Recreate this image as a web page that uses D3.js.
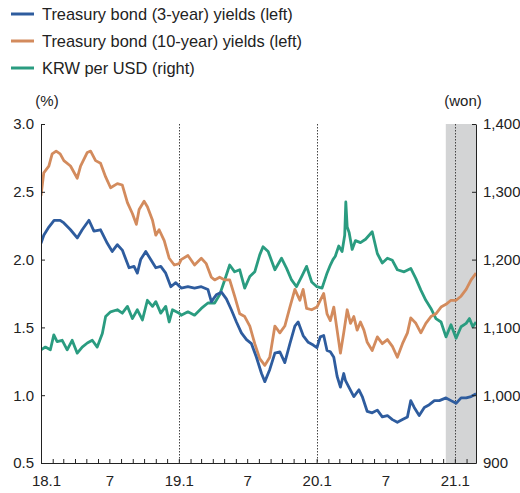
<!DOCTYPE html>
<html>
<head>
<meta charset="utf-8">
<script src="https://cdn.jsdelivr.net/npm/d3@7"></script>
<style>
  html, body { margin: 0; padding: 0; background: #fff; }
  svg { display: block; }
</style>
</head>
<body>
<svg id="chart" width="520" height="493"></svg>
<script>
// ---------------- DATA (decimal-year time) ----------------
const seriesNames = [
  "Treasury bond (3-year) yields (left)",
  "Treasury bond (10-year) yields (left)",
  "KRW per USD (right)"
];

const bond3Time = [
  2018.000, 2018.020, 2018.057, 2018.095, 2018.139, 2018.166, 2018.214, 2018.263, 2018.299, 2018.348,
  2018.384, 2018.432, 2018.481, 2018.517, 2018.554, 2018.590, 2018.639, 2018.675, 2018.699, 2018.723,
  2018.760, 2018.796, 2018.833, 2018.869, 2018.905, 2018.942, 2018.978,
  2019.017, 2019.066, 2019.114, 2019.163, 2019.211, 2019.236, 2019.272, 2019.309, 2019.345, 2019.381,
  2019.418, 2019.454, 2019.491, 2019.527, 2019.563, 2019.600, 2019.624, 2019.660, 2019.697, 2019.733,
  2019.769, 2019.806, 2019.842, 2019.866, 2019.902, 2019.939, 2019.975,
  2020.002, 2020.026, 2020.051, 2020.075, 2020.099, 2020.124, 2020.148, 2020.172, 2020.196, 2020.208,
  2020.233, 2020.269, 2020.306, 2020.330, 2020.366, 2020.402, 2020.439, 2020.475, 2020.512, 2020.548,
  2020.584, 2020.621, 2020.657, 2020.681, 2020.706, 2020.742, 2020.779, 2020.815, 2020.852, 2020.888,
  2020.936, 2020.972, 2021.009, 2021.045, 2021.082, 2021.118, 2021.154
];
const bond3Yield = [
  2.12, 2.18, 2.24, 2.29, 2.29, 2.27, 2.22, 2.16, 2.22, 2.29,
  2.21, 2.22, 2.12, 2.06, 2.11, 2.07, 1.94, 1.95, 1.90, 2.00,
  2.06, 2.00, 1.94, 1.95, 1.90, 1.80, 1.83,
  1.79, 1.80, 1.79, 1.80, 1.78, 1.69, 1.74, 1.76, 1.71, 1.63,
  1.54, 1.46, 1.41, 1.38, 1.28, 1.16, 1.10, 1.19, 1.31, 1.32,
  1.24, 1.38, 1.51, 1.54, 1.44, 1.39, 1.37,
  1.35, 1.43, 1.44, 1.33, 1.32, 1.28, 1.14, 1.06, 1.16, 1.11,
  1.06, 0.99, 1.04, 0.99, 0.88, 0.87, 0.89, 0.84, 0.85, 0.82,
  0.80, 0.82, 0.84, 0.96, 0.91, 0.85, 0.91, 0.93, 0.96, 0.96,
  0.98, 0.96, 0.94, 0.98, 0.98, 0.99, 1.01
];

const bond10Time = [
  2018.000, 2018.020, 2018.057, 2018.081, 2018.110, 2018.139, 2018.166, 2018.214, 2018.263, 2018.287,
  2018.336, 2018.360, 2018.396, 2018.432, 2018.469, 2018.505, 2018.554, 2018.590, 2018.627, 2018.663,
  2018.692, 2018.712, 2018.748, 2018.772, 2018.809, 2018.833, 2018.857, 2018.894, 2018.930, 2018.967,
  2019.003, 2019.017, 2019.066, 2019.114, 2019.163, 2019.199, 2019.236, 2019.260, 2019.296, 2019.333,
  2019.369, 2019.405, 2019.442, 2019.478, 2019.515, 2019.551, 2019.587, 2019.624, 2019.660, 2019.697,
  2019.733, 2019.769, 2019.806, 2019.842, 2019.878, 2019.902, 2019.927, 2019.964,
  2020.002, 2020.026, 2020.051, 2020.075, 2020.099, 2020.124, 2020.148, 2020.172, 2020.196, 2020.221,
  2020.245, 2020.269, 2020.293, 2020.317, 2020.342, 2020.366, 2020.402, 2020.439, 2020.475, 2020.512,
  2020.548, 2020.584, 2020.621, 2020.657, 2020.681, 2020.718, 2020.754, 2020.790, 2020.827, 2020.863,
  2020.900, 2020.936, 2020.972, 2021.009, 2021.045, 2021.082, 2021.118, 2021.154
];
const bond10Yield = [
  2.47, 2.64, 2.69, 2.78, 2.80, 2.78, 2.73, 2.69, 2.60, 2.69,
  2.79, 2.80, 2.73, 2.71, 2.61, 2.53, 2.56, 2.55, 2.42, 2.34,
  2.26, 2.37, 2.43, 2.39, 2.29, 2.18, 2.22, 2.14, 2.01, 1.96,
  1.97, 2.00, 2.03, 1.96, 2.01, 1.97, 1.87, 1.85, 1.87, 1.85,
  1.85, 1.73, 1.60, 1.58, 1.51, 1.38, 1.27, 1.22, 1.28, 1.51,
  1.46, 1.51, 1.65, 1.78, 1.70, 1.78, 1.64, 1.63,
  1.65, 1.70, 1.75, 1.60, 1.55, 1.65, 1.48, 1.31, 1.46, 1.63,
  1.53, 1.58, 1.48, 1.54, 1.48, 1.39, 1.33, 1.43, 1.38, 1.41,
  1.36, 1.28, 1.38, 1.46, 1.57, 1.53, 1.46, 1.53, 1.58, 1.60,
  1.65, 1.67, 1.70, 1.70, 1.73, 1.78, 1.85, 1.90
];

const krwTime = [
  2018.000, 2018.032, 2018.068, 2018.093, 2018.117, 2018.154, 2018.190, 2018.226, 2018.263, 2018.299,
  2018.336, 2018.372, 2018.408, 2018.445, 2018.469, 2018.505, 2018.554, 2018.590, 2018.627, 2018.663,
  2018.699, 2018.736, 2018.772, 2018.809, 2018.833, 2018.869, 2018.905, 2018.930, 2018.954,
  2019.003, 2019.017, 2019.066, 2019.114, 2019.163, 2019.211, 2019.260, 2019.296, 2019.333, 2019.369,
  2019.405, 2019.442, 2019.478, 2019.515, 2019.551, 2019.587, 2019.611, 2019.648, 2019.697, 2019.745,
  2019.782, 2019.818, 2019.854, 2019.891, 2019.927, 2019.964,
  2020.002, 2020.039, 2020.075, 2020.099, 2020.118, 2020.135, 2020.160, 2020.184, 2020.203, 2020.211,
  2020.221, 2020.235, 2020.257, 2020.281, 2020.317, 2020.354, 2020.402, 2020.439, 2020.475, 2020.512,
  2020.548, 2020.584, 2020.633, 2020.681, 2020.718, 2020.754, 2020.790, 2020.827, 2020.863, 2020.900,
  2020.936, 2020.972, 2021.009, 2021.045, 2021.082, 2021.106, 2021.130, 2021.154
];
const krwRate = [
  1067, 1071, 1067, 1089, 1079, 1081, 1067, 1081, 1062, 1071,
  1077, 1081, 1071, 1091, 1116, 1123, 1126, 1121, 1131, 1113,
  1126, 1111, 1140, 1131, 1138, 1121, 1131, 1108, 1126,
  1121, 1118, 1123, 1118, 1128, 1136, 1136, 1148, 1170, 1192,
  1182, 1185, 1158, 1175, 1182, 1207, 1219, 1212, 1185, 1202,
  1187, 1170, 1160, 1175, 1190, 1167,
  1160, 1158, 1180, 1192, 1200, 1205, 1220, 1212, 1236, 1285,
  1248, 1240, 1215, 1228, 1225, 1230, 1241, 1209, 1195, 1202,
  1199, 1185, 1182, 1187, 1172, 1155, 1140, 1128, 1113, 1108,
  1086, 1104, 1084, 1101, 1106, 1113, 1101, 1108
];

const leftTicks = [0.5, 1.0, 1.5, 2.0, 2.5, 3.0];
const rightTicks = [900, 1000, 1100, 1200, 1300, 1400];
const xLabelDates = ["2018-01-01", "2018-07-01", "2019-01-01", "2019-07-01", "2020-01-01", "2020-07-01", "2021-01-01"];
const xLabels = ["18.1", "7", "19.1", "7", "20.1", "7", "21.1"];
const yearLines = ["2019-01-01", "2020-01-01", "2021-01-01"];
const shadeRange = ["2020-12-08", "2021-02-26"];
const xDomain = ["2018-01-01", "2021-02-26"];
const colors = ["#2e5c9e", "#d38b5d", "#2a9c80"];

// ---------------- HELPERS ----------------
const parse = d3.timeParse("%Y-%m-%d");
function decToDate(t) {
  const y = Math.floor(t);
  const start = new Date(y, 0, 1);
  const days = (new Date(y + 1, 0, 1) - start) / 86400000;
  return new Date(start.getTime() + (t - y) * days * 86400000);
}
function zipSeries(ts, vs) { return ts.map((t, i) => ({ date: decToDate(t), value: vs[i] })); }

// ---------------- LAYOUT ----------------
const svg = d3.select("#chart");
const L = 41, R = 476, T = 124, B = 463;
const numFont = "'Liberation Sans Narrow', 'Arial Narrow', 'Liberation Sans', Arial, sans-serif";
const textFont = "'Liberation Sans', Arial, Helvetica, sans-serif";

const x = d3.scaleTime().domain(xDomain.map(parse)).range([L, R]);
const yL = d3.scaleLinear().domain([0.5, 3.0]).range([B, T]);
const yR = d3.scaleLinear().domain([900, 1400]).range([B, T]);

// shaded band
svg.append("rect")
  .attr("x", x(parse(shadeRange[0])))
  .attr("y", T)
  .attr("width", x(parse(shadeRange[1])) - x(parse(shadeRange[0])))
  .attr("height", B - T)
  .attr("fill", "#d3d4d5");

// dotted year lines
svg.selectAll(".yl").data(yearLines).enter().append("line")
  .attr("x1", d => Math.round(x(parse(d))) + 0.5)
  .attr("x2", d => Math.round(x(parse(d))) + 0.5)
  .attr("y1", T).attr("y2", B)
  .attr("stroke", "#444").attr("stroke-width", 1)
  .attr("stroke-dasharray", "1.5,1.5");

// lines
svg.append("defs").append("clipPath").attr("id", "clip")
  .append("rect").attr("x", L).attr("y", T - 2).attr("width", R - L).attr("height", B - T + 2);

const lineL = d3.line().x(d => x(d.date)).y(d => yL(d.value));
const lineR = d3.line().x(d => x(d.date)).y(d => yR(d.value));
const g = svg.append("g").attr("clip-path", "url(#clip)");
g.append("path").datum(zipSeries(krwTime, krwRate)).attr("d", lineR)
  .attr("fill", "none").attr("stroke", colors[2]).attr("stroke-width", 2.8).attr("stroke-linejoin", "round");
g.append("path").datum(zipSeries(bond10Time, bond10Yield)).attr("d", lineL)
  .attr("fill", "none").attr("stroke", colors[1]).attr("stroke-width", 2.8).attr("stroke-linejoin", "round");
g.append("path").datum(zipSeries(bond3Time, bond3Yield)).attr("d", lineL)
  .attr("fill", "none").attr("stroke", colors[0]).attr("stroke-width", 2.8).attr("stroke-linejoin", "round");

// axes
function styleAxis(sel) {
  sel.select(".domain").attr("stroke", "#222");
  sel.selectAll(".tick line").attr("stroke", "#222");
  sel.selectAll("text").attr("fill", "#222").style("font-family", numFont).style("font-size", "15px");
}

const leftAxis = svg.append("g").attr("transform", `translate(${L},0)`)
  .call(d3.axisLeft(yL).tickValues(leftTicks).tickFormat(d3.format(".1f")).tickSizeInner(-4).tickSizeOuter(0).tickPadding(7));
styleAxis(leftAxis);

const rightAxis = svg.append("g").attr("transform", `translate(${R},0)`)
  .call(d3.axisRight(yR).tickValues(rightTicks).tickFormat(d3.format(",")).tickSizeInner(-4).tickSizeOuter(0).tickPadding(7));
styleAxis(rightAxis);

const bottomAxis = svg.append("g").attr("transform", `translate(0,${B})`)
  .call(d3.axisBottom(x).ticks(d3.timeMonth.every(1)).tickFormat("").tickSizeInner(-4).tickSizeOuter(0));
styleAxis(bottomAxis);

const labelAxis = svg.append("g").attr("transform", `translate(0,${B})`)
  .call(d3.axisBottom(x).tickValues(xLabelDates.map(parse)).tickFormat((d, i) => xLabels[i]).tickSize(0).tickPadding(12));
labelAxis.select(".domain").remove();
styleAxis(labelAxis);
labelAxis.selectAll("text").filter((d, i) => i === 0).attr("dx", "5");

// unit labels
svg.append("text").attr("x", 47).attr("y", 106).attr("text-anchor", "middle")
  .style("font-family", numFont).style("font-size", "15px").attr("fill", "#222").text("(%)");
svg.append("text").attr("x", 463).attr("y", 106).attr("text-anchor", "middle")
  .style("font-family", numFont).style("font-size", "15px").attr("fill", "#222").text("(won)");

// legend
const legendY = [14, 41, 68];
const leg = svg.append("g");
seriesNames.forEach((name, i) => {
  leg.append("line").attr("x1", 11).attr("x2", 34).attr("y1", legendY[i]).attr("y2", legendY[i])
    .attr("stroke", colors[i]).attr("stroke-width", 3);
  leg.append("text").attr("x", 42).attr("y", legendY[i]).attr("dy", "0.36em")
    .style("font-family", textFont).style("font-size", "16.4px").attr("fill", "#222").text(name);
});
</script>
</body>
</html>
